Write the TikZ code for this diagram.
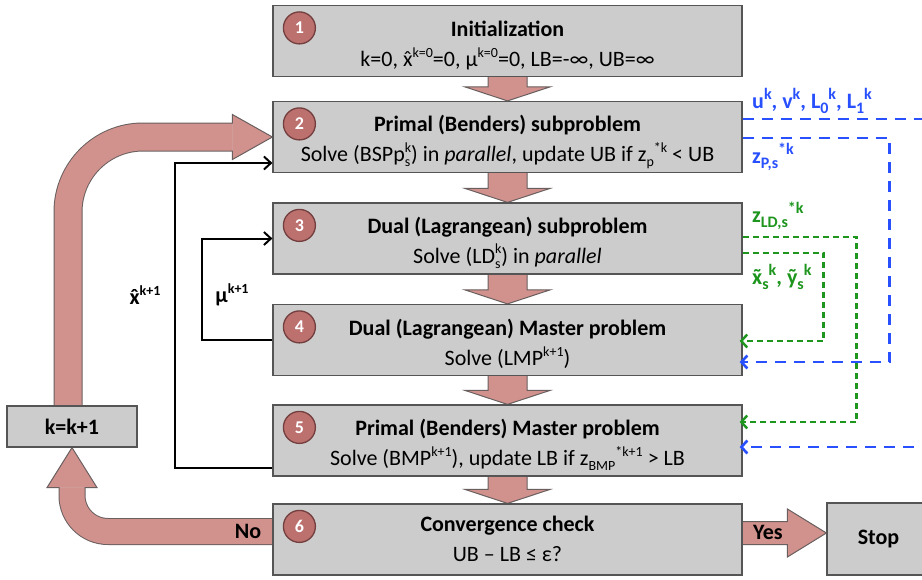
\documentclass[tikz,border=0pt]{standalone}
\usepackage{fontspec}
\setmainfont{Carlito}
\usetikzlibrary{calc,arrows.meta,backgrounds}

\definecolor{boxgray}{RGB}{204,204,204}
\definecolor{boxedge}{RGB}{85,85,85}
\definecolor{flowpink}{RGB}{209,145,141}
\definecolor{flowedge}{RGB}{105,95,95}
\definecolor{badgefill}{RGB}{188,113,111}
\definecolor{badgeedge}{RGB}{115,62,62}
\definecolor{cutblue}{RGB}{40,80,255}
\definecolor{cutgreen}{RGB}{30,150,30}

% text sizes and script helpers
\newcommand\bodysize{\fontsize{22}{30}\selectfont}
\newcommand\scriptpt{14}
\newcommand\up[1]{\raisebox{0.42em}{\fontsize{\scriptpt}{\scriptpt}\selectfont #1}}
\newcommand\dn[1]{\raisebox{-0.22em}{\fontsize{\scriptpt}{\scriptpt}\selectfont #1}}
\newcommand\updn[2]{\makebox[0pt][l]{\dn{#1}}\up{#2}}
% accented letters built from spacing accents
\newcommand\withacc[2]{\ooalign{#1\cr\hidewidth#2\hidewidth\cr}}
\newcommand\xhat{\withacc{x}{ˆ}}
\newcommand\xtil{\withacc{x}{˜}}

% block arrow from the bottom of one stage to the top of the next
\newcommand\flowstep[2]{%
  \filldraw[flow] ($(#1.south)+(-19.5,0)$) -- ($(#2.north)+(-19.5,-14)$)
    -- ($(#2.north)+(-42.5,-14)$) -- (#2.north) -- ($(#2.north)+(42.5,-14)$)
    -- ($(#2.north)+(19.5,-14)$) -- ($(#1.south)+(19.5,0)$);}

\begin{document}
\begin{tikzpicture}[x=1pt,y=-1pt,
  stage/.style={draw=boxedge, fill=boxgray, line width=1.2pt,
    minimum width=469pt, minimum height=71pt, inner sep=0pt},
  stagetext/.style={align=center, inner sep=0pt, font=\bodysize},
  endbox/.style={draw=boxedge, fill=boxgray, line width=1.2pt, inner sep=0pt,
    font=\bfseries\bodysize},
  badge/.style={circle, draw=badgeedge, fill=badgefill, line width=1.3pt,
    minimum size=32pt, inner sep=0pt, text=white,
    font=\bfseries\fontsize{18}{18}\selectfont},
  flow/.style={fill=flowpink, draw=flowedge, line width=1pt, line join=miter},
  conn/.style={draw=black, line width=2pt,
    -{Straight Barb[length=7pt 0, width=13pt 0]}},
  bluedash/.style={draw=cutblue, line width=2.6pt, dash pattern=on 11pt off 8pt},
  greendash/.style={draw=cutgreen, line width=2.4pt, dash pattern=on 6pt off 4pt},
  cuttip/.style={-{Straight Barb[length=6pt 0, width=13pt 0]}, shorten >=-3pt},
  cutlabel/.style={anchor=west, inner sep=0pt, font=\bfseries\fontsize{22}{22}\selectfont\renewcommand\scriptpt{16}},
  flowlabel/.style={inner sep=0pt, font=\bfseries\bodysize}]

\useasboundingbox (0,0) rectangle (922,579);
\begin{scope}[on background layer]
  \fill[white] (0,0) rectangle (922,579);
\end{scope}
\clip (0,0) rectangle (922,579);

% stages of the algorithm
\node[stage] (b1) at (507.5,41) {};
\node[stage] (b2) at (507.5,137) {};
\node[stage] (b3) at (507.5,238.5) {};
\node[stage] (b4) at (507.5,340) {};
\node[stage] (b5) at (507.5,440.5) {};
\node[stage] (b6) at (507.5,539.5) {};
\node[stagetext] (t1) at ($(b1)+(0,5)$)
  {\textbf{Initialization}\\ k=0, \xhat\up{k=0}=0, μ\up{k=0}=0, LB=-∞, UB=∞};
\node[stagetext] (t2) at ($(b2)+(0,5)$)
  {\textbf{Primal (Benders) subproblem}\\ Solve (BSPp\updn{s}{k}) in \textit{parallel}, update UB if z\dn{p}\up{*k} < UB};
\node[stagetext] (t3) at ($(b3)+(0,4)$)
  {\textbf{Dual (Lagrangean) subproblem}\\ Solve (LD\updn{s}{k}) in \textit{parallel}};
\node[stagetext] (t4) at ($(b4)+(0,4)$)
  {\textbf{Dual (Lagrangean) Master problem}\\ Solve (LMP\up{k+1})};
\node[stagetext] (t5) at ($(b5)+(0,4)$)
  {\textbf{Primal (Benders) Master problem}\\ Solve (BMP\up{k+1}), update LB if z\dn{BMP}\up{*k+1} > LB};
\node[stagetext] (t6) at ($(b6)+(0,-1)$)
  {\textbf{Convergence check}\\ UB – LB ≤ ε?};
\node[endbox, minimum width=103pt, minimum height=72pt] (stop) at (878.5,539) {Stop};
\node[endbox, minimum width=130pt, minimum height=41pt] (kbox) at (72,426.5) {k=k+1};

% step numbers
\foreach \i in {1,...,6}
  \node[badge] (n\i) at ($(b\i.north west)+(27,23)$) {\i};

% main flow (behind the stages)
\begin{scope}[on background layer]
  \flowstep{b1}{b2}
  \flowstep{b2}{b3}
  \flowstep{b3}{b4}
  \flowstep{b4}{b5}
  \flowstep{b5}{b6}

  % k=k+1 back to the primal subproblem
  \draw[flowedge, line width=29pt, rounded corners=75pt]
    ($(kbox.north)+(-4,0)$) |- ($(b2.west)+(-40,0)$);
  \draw[flowpink, line width=27pt, rounded corners=75pt]
    ($(kbox.north)+(-4,1)$) |- ($(b2.west)+(-40,0)$);
  \filldraw[flow] ($(b2.west)+(-40,-13.5)$) -- ($(b2.west)+(-40,-22.5)$) -- (b2.west)
    -- ($(b2.west)+(-40,22.5)$) -- ($(b2.west)+(-40,13.5)$);

  % "No" branch from the convergence check to k=k+1
  \draw[flowedge, line width=27pt, rounded corners=36pt]
    ($(b6.west)+(0,-8)$) -| ($(kbox.south)+(0,40)$);
  \draw[flowpink, line width=25pt, rounded corners=36pt]
    ($(b6.west)+(1,-8)$) -| ($(kbox.south)+(0,40)$);
  \filldraw[flow] ($(kbox.south)+(-12.5,40)$) -- ($(kbox.south)+(-25,40)$) -- (kbox.south)
    -- ($(kbox.south)+(25,40)$) -- ($(kbox.south)+(12.5,40)$);

  % "Yes" branch to Stop
  \coordinate (ytip) at ($(stop.west)+(0,-6)$);
  \filldraw[flow] ($(b6.east |- ytip)+(0,-11.5)$) -- ($(ytip)+(-39,-11.5)$)
    -- ($(ytip)+(-39,-24)$) -- (ytip) -- ($(ytip)+(-39,24)$)
    -- ($(ytip)+(-39,11.5)$) -- ($(b6.east |- ytip)+(0,11.5)$);
\end{scope}

\node[flowlabel] (nolab) at (248,531) {No};
\node[flowlabel] (yeslab) at (768,532) {Yes};

% feedback of master solutions
\draw[conn] ($(b5.west)+(0,27.5)$) -- ++(-97,0) |- ($(b2.west)+(0,26)$);
\draw[conn] (b4.west) -- ++(-70,0) |- (b3.west);
\node[flowlabel] (xhatlab) at (145,295) {\xhat\up{k+1}};
\node[flowlabel] (mulab) at (232,295) {μ\up{k+1}};

% information passed between subproblems and master problems
\coordinate (bluefar1) at ($(b2.east)+(190,-18)$);
\coordinate (bluefar2) at ($(b5.east)+(190,6.5)$);
\draw[bluedash] ($(b2.east)+(0,-18)$) -- (bluefar1);
\draw[bluedash, cuttip] ($(b2.east)+(0,1)$) -- ++(147,0) |- ($(b4.east)+(0,22)$);
\draw[bluedash, cuttip] (bluefar2) -- ($(b5.east)+(0,6.5)$);
\draw[greendash, cuttip] ($(b3.east)+(0,-1.5)$) -- ++(114,0) |- ($(b5.east)+(0,-18.5)$);
\draw[greendash, cuttip] ($(b3.east)+(0,14.5)$) -- ++(81,0) |- ($(b4.east)+(0,1)$);

\node[cutlabel, text=cutblue] (uvlab) at (752,101) {u\up{k}, v\up{k}, L\dn{0}\up{k}, L\dn{1}\up{k}};
\node[cutlabel, text=cutblue] (zplab) at (752,157) {z\dn{P,s}\up{*k}};
\node[cutlabel, text=cutgreen] (zldlab) at (752,216) {z\dn{LD,s}\up{*k}};
\node[cutlabel, text=cutgreen] (xylab) at (752,277) {\xtil\dn{s}\up{k}, ỹ\dn{s}\up{k}};
\end{tikzpicture}
\end{document}
